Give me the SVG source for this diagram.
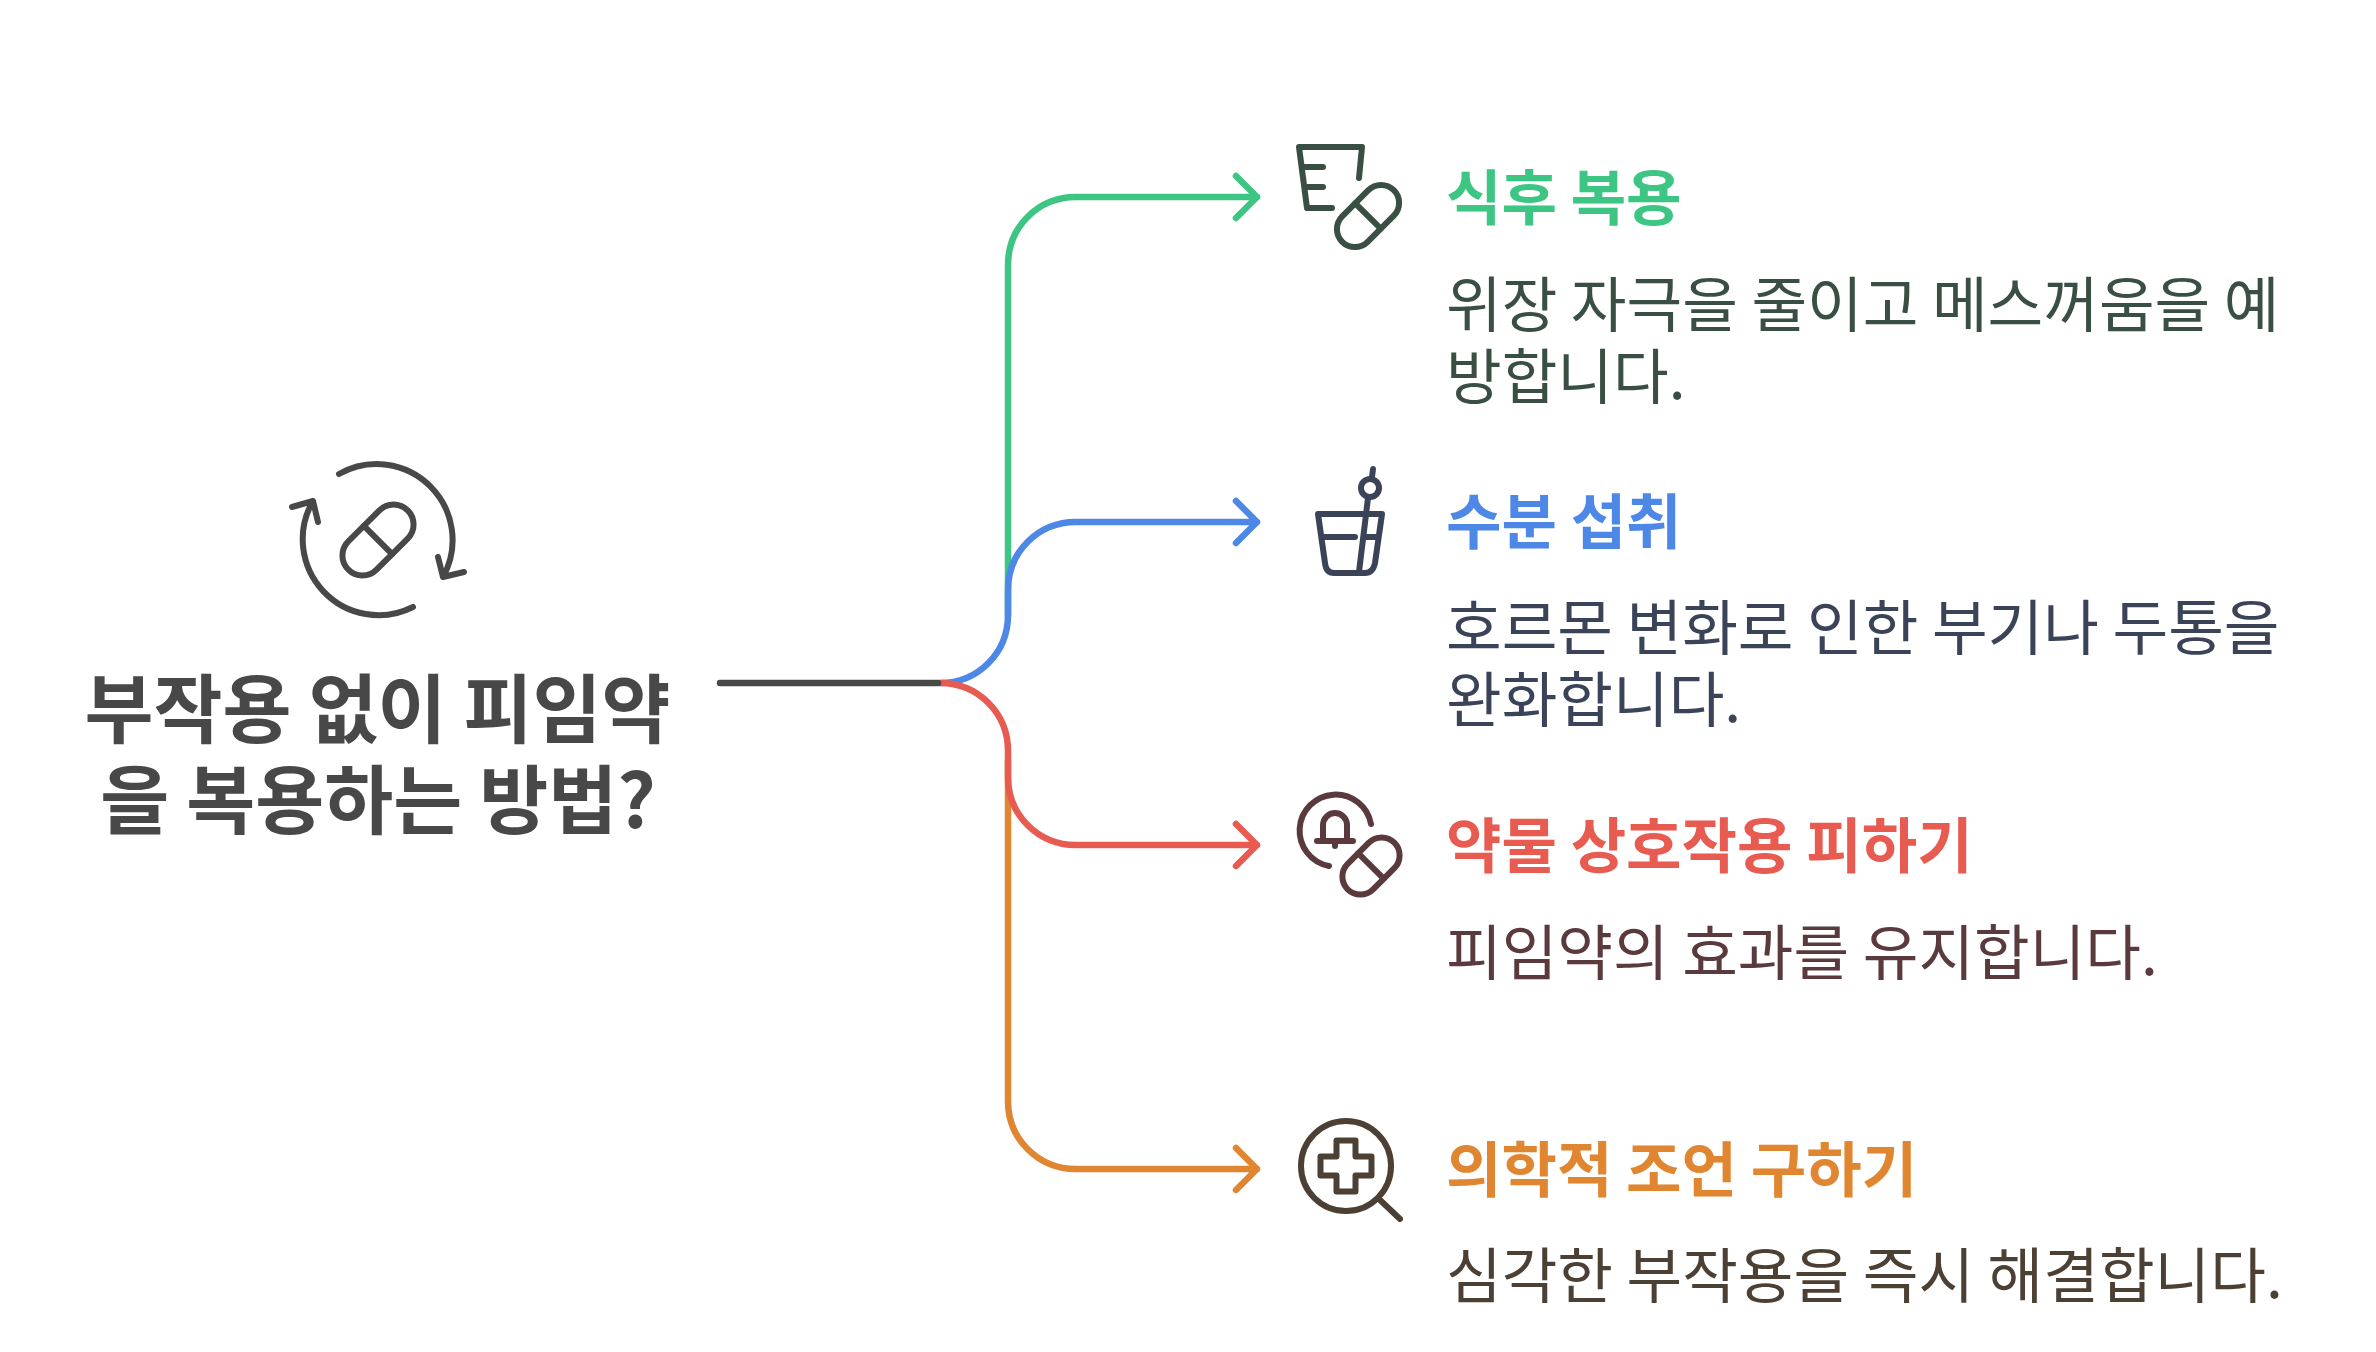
<svg xmlns="http://www.w3.org/2000/svg" width="2376" height="1352" viewBox="0 0 2376 1352">
<defs>
<g id="pill"><rect x="-36.500" y="-18" width="73" height="36" rx="18"/><path d="M0 -18V18"/></g>
</defs>
<style>
text{font-family:"Noto Sans CJK KR","Noto Sans",sans-serif}
.t{font-size:75px;font-weight:700;fill:#484848;text-anchor:middle}
.h{font-size:60.300px;font-weight:700}
.d{font-size:60.500px;font-weight:400}
.c{fill:none;stroke-width:6.500;stroke-linecap:round;stroke-linejoin:round}
.i{fill:none;stroke-width:6;stroke-linecap:round;stroke-linejoin:round}
</style>
<rect width="2376" height="1352" fill="#fff"/>
<g id="connectors">
<path class="c" stroke="#3cc583" d="M1008 615V265C1008 227 1038 197 1076 197H1257M1236 176L1257 197L1236 218"/>
<path class="c" stroke="#e08631" d="M1008 760V1101C1008 1139 1038 1169 1076 1169H1257M1236 1148L1257 1169L1236 1190"/>
<path class="c" stroke="#4e88e7" d="M940 683C978 683 1008 653 1008 615V590C1008 552 1038 522 1076 522H1257M1236 501L1257 522L1236 543"/>
<path class="c" stroke="#e85b50" d="M940 683C978 683 1008 713 1008 751V777C1008 815 1038 845 1076 845H1257M1236 824L1257 845L1236 866"/>
<path class="c" stroke="#484848" d="M720 683H938"/>
</g>
<g id="root">
<g class="i" stroke="#484848">
<path d="M339 474A76 76 0 0 1 443 577M438 557L443 577L464 572"/>
<path d="M413 607A76 76 0 0 1 313 501M292 507L313 501L318 522"/>
<g transform="translate(378 540) rotate(-45)"><rect x="-42" y="-20" width="84" height="40" rx="20"/><path d="M0 -20V20"/></g>
</g>
<text class="t" x="377.500" y="737">부작용 없이 피임약</text>
<text class="t" x="378" y="828">을 복용하는 방법?</text>
</g>
<g id="n1">
<g class="i" stroke="#3a4f44">
<path d="M1359 178L1362 147H1299L1307 208H1332M1303 167H1323M1305 187H1323"/>
<use href="#pill" transform="translate(1368 216) rotate(-45)"/>
</g>
<text class="h" x="1446" y="220" fill="#3cc583">식후 복용</text>
<text class="d" x="1446" y="327" fill="#3a4f44">위장 자극을 줄이고 메스꺼움을 예</text><text class="d" x="1446" y="399" fill="#3a4f44">방합니다.</text></g>
<g id="n2">
<g class="i" stroke="#3b4358">
<path d="M1318 514H1382L1375 563Q1373 573 1365 573H1334Q1326 573 1325 563ZM1323 537H1355M1367 537H1377M1359 572L1368 498M1373 469L1372 477"/>
<circle cx="1370" cy="488" r="9"/>
</g>
<text class="h" x="1446" y="544" fill="#4e88e7">수분 섭취</text>
<text class="d" x="1446" y="650" fill="#3b4358">호르몬 변화로 인한 부기나 두통을</text><text class="d" x="1446" y="722" fill="#3b4358">완화합니다.</text></g>
<g id="n3">
<g class="i" stroke="#5a3a3c">
<path d="M1371 824A36 36 0 1 0 1329 866M1323 840V825A12 12 0 0 1 1347 825V840M1317 841H1353M1335 842V846"/>
<g transform="translate(1371 866) rotate(-45)"><rect x="-33" y="-18" width="66" height="36" rx="18"/><path d="M0 -18V18"/></g>
</g>
<text class="h" x="1446" y="868" fill="#e85b50">약물 상호작용 피하기</text>
<text class="d" x="1446" y="975" fill="#5a3a3c">피임약의 효과를 유지합니다.</text></g>
<g id="n4">
<g class="i" stroke="#4c3f33">
<circle cx="1346" cy="1166" r="45"/>
<path d="M1336.500 1140.500H1355.500V1156.500H1371.500V1175.500H1355.500V1191.500H1336.500V1175.500H1320.500V1156.500H1336.500ZM1380 1200L1400 1219"/>
</g>
<text class="h" x="1446" y="1192" fill="#e08631">의학적 조언 구하기</text>
<text class="d" x="1446" y="1298" fill="#4c3f33">심각한 부작용을 즉시 해결합니다.</text></g>
</svg>
